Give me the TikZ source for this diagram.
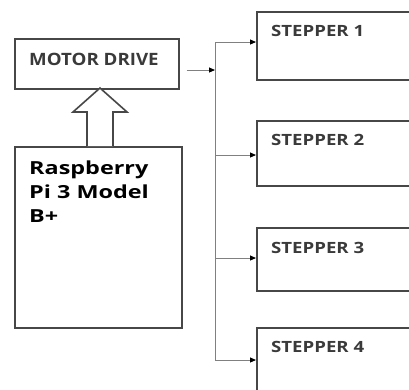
\documentclass[tikz,border=0pt]{standalone}
\usepackage{fontspec}
\setmainfont{Open Sans}
\usetikzlibrary{arrows.meta}
\definecolor{boxline}{HTML}{474747}
\definecolor{wireline}{HTML}{808080}
\definecolor{labelgray}{HTML}{3A3A3A}
\newcommand{\wider}[2]{\scalebox{#1}[1]{#2}}
\tikzset{
  blockbox/.style={draw=boxline, line width=1.6pt, fill=white, rectangle, inner sep=0pt, anchor=north west},
  steplabel/.style={anchor=base west, inner sep=0pt, font=\bfseries\fontsize{15.5}{18}\selectfont, text=labelgray},
  wire/.style={draw=wireline, line width=0.9pt},
  wirearrow/.style={wire, -{Triangle[length=6pt,width=5pt,fill=black,color=black]}},
}
\begin{document}
\begin{tikzpicture}[x=1pt,y=-1pt]
\useasboundingbox (0,0) rectangle (409,389);
\clip (0,0) rectangle (409,389);
% motor drive
\node[blockbox, minimum width=164pt, minimum height=50pt] (md) at (14,38) {};
\node[anchor=base west, inner sep=0pt, font=\bfseries\fontsize{17}{20}\selectfont, text=labelgray] (mdt) at (29,65) {\wider{1.1}{MOTOR DRIVE}};
% raspberry pi
\node[blockbox, minimum width=167pt, minimum height=181pt] (pi) at (14,146) {};
\node[anchor=base west, inner sep=0pt, font=\bfseries\fontsize{18}{20}\selectfont, text=black] (pit1) at (29,174) {\wider{1.3}{Raspberry}};
\node[anchor=base west, inner sep=0pt, font=\bfseries\fontsize{18}{20}\selectfont, text=black] (pit2) at (29,198) {\wider{1.3}{Pi 3 Model}};
\node[anchor=base west, inner sep=0pt, font=\bfseries\fontsize{18}{20}\selectfont, text=black] (pit3) at (29,222) {\wider{1.3}{B+}};
% hollow arrow
\draw[draw=boxline, line width=1.6pt, fill=white, line join=miter]
  (87,146) -- (87,112) -- (73,112) -- (100,88) -- (127,112) -- (113,112) -- (113,146);
% steppers
\node[blockbox, minimum width=170pt, minimum height=68pt] (s1) at (256,11) {};
\node[blockbox, minimum width=170pt, minimum height=65pt] (s2) at (256,120) {};
\node[blockbox, minimum width=170pt, minimum height=63pt] (s3) at (256,227) {};
\node[blockbox, minimum width=170pt, minimum height=80pt] (s4) at (256,327) {};
\node[steplabel] (l1) at (271,36) {\wider{1.2}{STEPPER 1}};
\node[steplabel] (l2) at (271,145) {\wider{1.2}{STEPPER 2}};
\node[steplabel] (l3) at (271,253) {\wider{1.2}{STEPPER 3}};
\node[steplabel] (l4) at (271,352) {\wider{1.2}{STEPPER 4}};
% wires
\coordinate (bus) at (215,70);
\coordinate (bustop) at (215,42);
\coordinate (busbot) at (215,360);
\draw[wirearrow] (md.east |- 0,70) ++(7,0) -- (bus);
\draw[wire] (bustop) -- (busbot);
\draw[wirearrow] (bustop) -- (s1.west |- bustop);
\draw[wirearrow] (215,155) -- (s2.west |- 0,155);
\draw[wirearrow] (215,258) -- (s3.west |- 0,258);
\draw[wirearrow] (busbot) -- (s4.west |- busbot);
\end{tikzpicture}
\end{document}
